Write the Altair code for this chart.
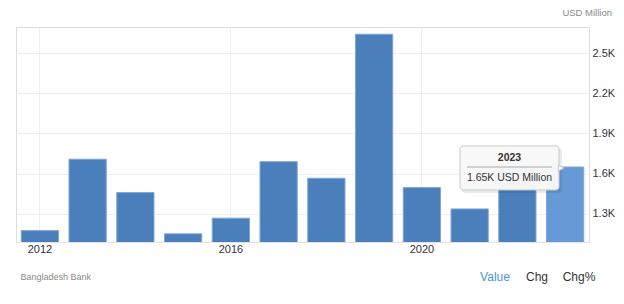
import altair as alt
import pandas as pd

# Annual foreign direct investment, USD million
years = ["2012", "2013", "2014", "2015", "2016", "2017",
         "2018", "2019", "2020", "2021", "2022", "2023"]
values = [1175, 1708, 1459, 1151, 1268, 1690,
          1566, 2641, 1496, 1337, 1640, 1650]
y_ticks = [1300, 1600, 1900, 2200, 2500]
x_ticks = ["2012", "2016", "2020"]
selected_year = "2023"

df = pd.DataFrame({"year": years, "value": values})
df["selected"] = df["year"] == selected_year

FONT = "Liberation Sans"
W, H = 573, 215

bars = alt.Chart(df).mark_bar(
    stroke="#7ea6d6", strokeWidth=1, clip=True
).encode(
    x=alt.X(
        "year:N",
        sort=years,
        scale=alt.Scale(paddingInner=0.22, paddingOuter=0.11),
        axis=alt.Axis(
            title=None, values=x_ticks, labelAngle=0, ticks=False,
            domainColor="#e3e3e3", grid=True, gridColor="#efefef",
            labelFont=FONT, labelFontSize=11, labelColor="#333333",
            labelPadding=1,
        ),
    ),
    y=alt.Y(
        "value:Q",
        scale=alt.Scale(domain=[1090, 2695], zero=False, nice=False),
        axis=alt.Axis(
            title=None, orient="right", values=y_ticks, domain=False,
            ticks=False, gridColor="#efefef",
            labelExpr="format(datum.value / 1000, '.1f') + 'K'",
            labelFont=FONT, labelFontSize=11, labelColor="#333333",
            labelPadding=3,
        ),
    ),
    color=alt.condition(
        alt.datum.selected, alt.value("#6699d6"), alt.value("#4b7fbc")
    ),
)

# Static hover box for the selected year
sel_row = df[df["year"] == selected_year].iloc[0]
tip_title = sel_row["year"]
tip_body = f"{sel_row['value'] / 1000:.2f}K USD Million"

one = pd.DataFrame({"k": [0]})

shadow = alt.Chart(one).mark_rect(
    color="#000000", opacity=0.08, cornerRadius=3
).encode(x=alt.value(446), x2=alt.value(546), y=alt.value(121), y2=alt.value(166))

box = alt.Chart(one).mark_rect(
    fill="#f9f9f9", opacity=0.97, stroke="#c9c9c9", strokeWidth=1, cornerRadius=3
).encode(x=alt.value(444), x2=alt.value(543), y=alt.value(119), y2=alt.value(163))

arrow = alt.Chart(one).mark_point(
    shape="triangle-right", filled=True, fill="#f9f9f9", stroke="#c9c9c9",
    strokeWidth=1, size=40, opacity=1
).encode(x=alt.value(545), y=alt.value(141))

sep = alt.Chart(one).mark_rule(color="#a8a8a8", strokeWidth=1).encode(
    x=alt.value(451), x2=alt.value(536), y=alt.value(140)
)

tip_head = alt.Chart(one).mark_text(
    text=tip_title, font=FONT, fontSize=10.5, fontWeight="bold", color="#333333",
    align="center", baseline="middle"
).encode(x=alt.value(493.5), y=alt.value(131))

tip_text = alt.Chart(one).mark_text(
    text=tip_body, font=FONT, fontSize=10.5, color="#333333",
    align="center", baseline="middle"
).encode(x=alt.value(493.5), y=alt.value(151))

# Surrounding labels
unit = alt.Chart(one).mark_text(
    text="USD Million", font=FONT, fontSize=9.5, color="#8a8a8a",
    align="right", baseline="middle"
).encode(x=alt.value(596), y=alt.value(-14))

source = alt.Chart(one).mark_text(
    text="Bangladesh Bank", font=FONT, fontSize=9, color="#8a8a8a",
    align="left", baseline="middle"
).encode(x=alt.value(4.5), y=alt.value(250))

tabs_df = pd.DataFrame({
    "label": ["Value", "Chg", "Chg%"],
    "px": [479, 521, 563],
    "active": [True, False, False],
})
tabs = alt.Chart(tabs_df).mark_text(
    font=FONT, fontSize=12, align="center", baseline="middle"
).encode(
    x=alt.X("px:Q", scale=None),
    y=alt.value(250),
    text="label:N",
    color=alt.condition(alt.datum.active, alt.value("#4a94dc"), alt.value("#333333")),
)

chart = alt.layer(
    bars, shadow, box, arrow, sep, tip_head, tip_text, unit, source, tabs
).properties(
    width=W, height=H,
    autosize=alt.AutoSizeParams(type="none"),
    padding={"left": 16, "top": 27, "right": 35, "bottom": 62},
).configure_view(
    stroke="#efefef"
).configure(background="white")

chart.save("out.html", embed_options={"renderer": "svg", "actions": False})
